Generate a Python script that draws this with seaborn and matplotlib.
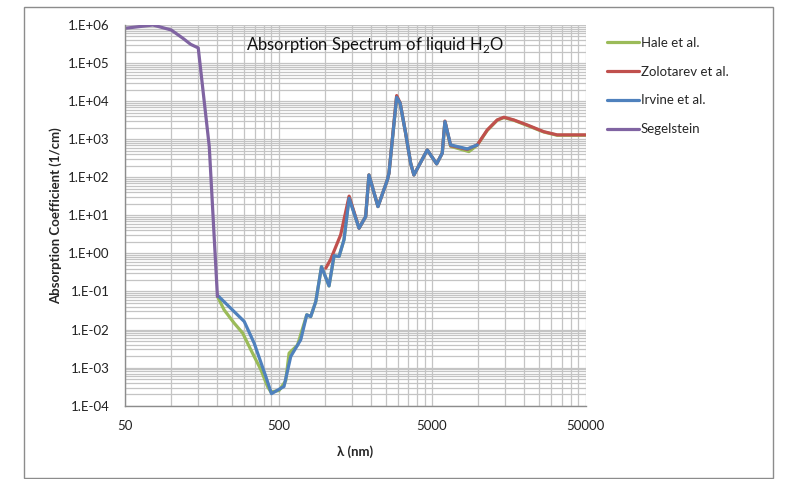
import numpy as np
import pandas as pd
import matplotlib
matplotlib.use('Agg')
import matplotlib.pyplot as plt
import matplotlib.ticker as mticker
from matplotlib.patches import Rectangle
import seaborn as sns

# wavelength (nm) and absorption coefficient (1/cm)
hale_wl = [200, 221, 257, 292, 330, 384, 424, 446, 504, 557, 586, 665, 764, 811, 875, 953, 1067, 1150,
           1240, 1336, 1442, 1674, 1849, 1942, 2223, 2559, 2623, 2942, 3100, 3367, 3630, 3812, 4657,
           5360, 5830, 6070, 6610, 8700, 9860, 11450, 13300, 14700, 17050, 20850, 26700, 32650, 50000]
hale_k = [0.075, 0.033, 0.0148, 0.0081, 2.95e-3, 8.8e-4, 3.2e-4, 2.3e-4, 2.5e-4, 4.5e-4, 2.4e-3, 3.9e-3,
          0.0244, 0.022, 0.0547, 0.45, 0.14, 0.85, 0.83, 2.3, 30, 4.6, 9.3, 115, 17, 85, 129, 1.3e4,
          8800, 1437, 234, 115, 523, 225, 430, 2900, 650, 473, 700, 1700, 3150, 3700, 3150, 2300, 1550,
          1270, 1270]

zolo_wl = [1016, 1094, 1271, 1442, 1674, 1849, 1942, 2223, 2559, 2623, 2942, 3100, 3367, 3630, 3812,
           4657, 5360, 5830, 6070, 6610, 8490, 9860, 11450, 13300, 14700, 17050, 20850, 26700, 32650, 50000]
zolo_k = [0.41, 0.7, 3.1, 32, 4.6, 9.3, 115, 17, 85, 129, 1.4e4, 9000, 1437, 234, 115, 523, 225, 430,
          3000, 680, 540, 708, 1750, 3210, 3780, 3210, 2370, 1580, 1300, 1300]

irv_wl = [200, 299, 347, 413, 450, 543, 601, 698, 764, 811, 875, 953, 1067, 1150, 1240, 1336, 1442,
          1674, 1849, 1942, 2223, 2559, 2623, 2942, 3100, 3367, 3630, 3812, 4657, 5360, 5830, 6070,
          6610, 8490, 9860]
irv_k = [0.08, 0.0163, 0.0044, 5.9e-4, 2.07e-4, 3.2e-4, 1.97e-3, 5.4e-3, 0.0244, 0.022, 0.0547, 0.45,
         0.14, 0.87, 0.83, 2.3, 28, 4.6, 9.3, 115, 17, 85, 129, 1.26e4, 8800, 1437, 234, 115, 523, 225,
         430, 2900, 708, 556, 708]

seg_wl = [50, 76, 100, 119, 134, 150, 177, 200]
seg_k = [8.2e5, 1.0e6, 7.4e5, 4.5e5, 3.1e5, 2.5e5, 640, 0.074]

names = ['Hale et al.', 'Zolotarev et al.', 'Irvine et al.', 'Segelstein']
colors = ['#9BBB59', '#C0504D', '#4F81BD', '#8064A2']

sns.set_style('white')
plt.rcParams['font.family'] = ['Lato', 'DejaVu Sans']
plt.rcParams['mathtext.fontset'] = 'custom'
plt.rcParams['mathtext.rm'] = 'Lato'

fig = plt.figure(figsize=(7.85, 4.79), dpi=100)
ax = fig.add_axes([125 / 785, 1 - 405.7 / 479, 460.5 / 785, 380.7 / 479])

series = [(hale_wl, hale_k), (zolo_wl, zolo_k), (irv_wl, irv_k), (seg_wl, seg_k)]
for (wl, k), name, c in zip(series, names, colors):
    sns.lineplot(x=wl, y=k, ax=ax, color=c, linewidth=2.3, label=name, sort=False)

ax.set_xscale('log')
ax.set_yscale('log')
ax.set_xlim(50, 50000)
ax.set_ylim(1e-4, 1e6)

ax.xaxis.set_major_locator(mticker.FixedLocator([50, 500, 5000, 50000]))
ax.xaxis.set_major_formatter(mticker.FixedFormatter(['50', '500', '5000', '50000']))
xminor = [m * b for b in [50, 500, 5000] for m in range(2, 10)]
ax.xaxis.set_minor_locator(mticker.FixedLocator(xminor))
ax.xaxis.set_minor_formatter(mticker.NullFormatter())

ax.yaxis.set_major_locator(mticker.LogLocator(base=10, numticks=20))
ax.yaxis.set_minor_locator(mticker.LogLocator(base=10, subs=np.arange(2, 10), numticks=20))
ax.yaxis.set_minor_formatter(mticker.NullFormatter())
ax.yaxis.set_major_formatter(mticker.FuncFormatter(
    lambda v, p: f"1.E{int(round(np.log10(v))):+03d}"))

ax.grid(True, which='both', color='#c4c4c4', linewidth=0.9)
ax.set_axisbelow(True)
ax.tick_params(which='both', length=0)
ax.tick_params(axis='y', pad=11, labelsize=9.5, labelcolor='#222222')
ax.tick_params(axis='x', pad=10, labelsize=9.5, labelcolor='#222222')
for s in ['top', 'right']:
    ax.spines[s].set_visible(False)
for s in ['left', 'bottom']:
    ax.spines[s].set_color('#8c8c8c')
    ax.spines[s].set_linewidth(1.0)

ax.set_xlabel('λ (nm)', fontsize=9.5, fontweight='bold', labelpad=10)
ax.set_ylabel('Absorption Coefficient (1/cm)', fontsize=9.5, fontweight='bold', labelpad=4)
ax.text(0.543, 0.947, 'Absorption Spectrum of liquid H$_2$O', transform=ax.transAxes,
        ha='center', va='center', fontsize=12, color='#111111')

ax.legend(loc='upper left', bbox_to_anchor=(595 / 785, 1 - 25 / 479), bbox_transform=fig.transFigure,
          frameon=False, fontsize=9.5, handlelength=2.4, handletextpad=0.15, labelspacing=1.27)

fig.patches.append(Rectangle((24 / 785, 1 / 479), 749 / 785, 471 / 479, transform=fig.transFigure,
                             fill=False, edgecolor='#8c8c8c', linewidth=1.0))

fig.savefig('out.png', dpi=100)
